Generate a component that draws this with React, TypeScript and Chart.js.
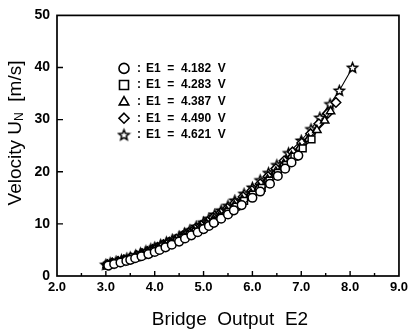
import React, { useEffect, useRef } from 'react';
import { Chart, registerables } from 'chart.js';

Chart.register(...registerables);

// Hot-wire calibration: velocity vs bridge output E2 for five overheat settings E1
const seriesLabels = ['E1 = 4.182 V', 'E1 = 4.283 V', 'E1 = 4.387 V', 'E1 = 4.490 V', 'E1 = 4.621 V'];

const e2Circle = [3.05, 3.17, 3.30, 3.42, 3.50, 3.60, 3.73, 3.87, 4.00, 4.10, 4.22, 4.35, 4.50, 4.62, 4.75, 4.88, 5.00, 5.11, 5.21, 5.36, 5.50, 5.62, 5.78, 6.00, 6.16, 6.36, 6.52, 6.67, 6.80, 6.94];
const uCircle = [2.0, 2.3, 2.6, 2.9, 3.1, 3.4, 3.8, 4.2, 4.6, 5.0, 5.5, 6.0, 6.6, 7.2, 7.8, 8.4, 9.0, 9.6, 10.2, 11.0, 11.8, 12.6, 13.6, 15.0, 16.2, 17.7, 19.2, 20.6, 21.8, 23.1];

const e2Square = [3.02, 3.14, 3.26, 3.38, 3.49, 3.63, 3.75, 3.88, 3.99, 4.09, 4.22, 4.34, 4.46, 4.59, 4.72, 4.84, 4.98, 5.10, 5.23, 5.37, 5.51, 5.67, 5.83, 6.01, 6.19, 6.35, 6.52, 6.69, 6.86, 7.03, 7.21];
const uSquare = [2.0, 2.3, 2.6, 2.9, 3.2, 3.6, 4.0, 4.4, 4.8, 5.2, 5.7, 6.2, 6.7, 7.3, 7.9, 8.5, 9.2, 9.9, 10.6, 11.4, 12.3, 13.3, 14.4, 15.6, 16.9, 18.3, 19.8, 21.3, 22.9, 24.5, 26.2];

const e2Triangle = [3.03, 3.14, 3.25, 3.37, 3.48, 3.61, 3.74, 3.85, 3.96, 4.06, 4.19, 4.31, 4.42, 4.56, 4.68, 4.80, 4.93, 5.06, 5.20, 5.33, 5.47, 5.63, 5.79, 5.97, 6.13, 6.31, 6.48, 6.64, 6.80, 6.97, 7.15, 7.32, 7.48, 7.60];
const uTriangle = [2.1, 2.4, 2.7, 3.0, 3.3, 3.7, 4.1, 4.5, 4.9, 5.3, 5.8, 6.3, 6.8, 7.4, 8.0, 8.6, 9.3, 10.0, 10.8, 11.6, 12.5, 13.5, 14.6, 15.8, 17.0, 18.5, 20.0, 21.5, 23.0, 24.6, 26.3, 28.0, 29.8, 31.6];

const e2Diamond = [3.03, 3.13, 3.25, 3.37, 3.51, 3.63, 3.74, 3.85, 3.96, 4.06, 4.18, 4.30, 4.44, 4.57, 4.69, 4.82, 4.95, 5.08, 5.20, 5.35, 5.49, 5.64, 5.81, 5.99, 6.16, 6.32, 6.48, 6.65, 6.82, 7.01, 7.19, 7.36, 7.54, 7.71];
const uDiamond = [2.2, 2.5, 2.8, 3.1, 3.5, 3.9, 4.3, 4.7, 5.1, 5.5, 6.0, 6.5, 7.1, 7.7, 8.3, 9.0, 9.7, 10.4, 11.2, 12.1, 13.0, 14.0, 15.2, 16.4, 17.7, 19.1, 20.6, 22.1, 23.8, 25.5, 27.3, 29.2, 31.2, 33.3];

const e2Star = [3.00, 3.09, 3.21, 3.32, 3.43, 3.50, 3.61, 3.71, 3.82, 3.92, 4.00, 4.12, 4.24, 4.36, 4.50, 4.61, 4.72, 4.85, 5.00, 5.11, 5.23, 5.36, 5.50, 5.64, 5.83, 6.00, 6.16, 6.33, 6.50, 6.74, 7.00, 7.20, 7.38, 7.59, 7.78, 8.05];
const uStar = [2.2, 2.5, 2.8, 3.1, 3.4, 3.6, 4.0, 4.4, 4.8, 5.2, 5.5, 6.0, 6.5, 7.0, 7.6, 8.2, 8.8, 9.5, 10.3, 11.0, 11.8, 12.6, 13.5, 14.5, 15.8, 17.0, 18.4, 19.8, 21.3, 23.6, 26.0, 28.2, 30.4, 33.0, 35.6, 40.0];

const xMin = 2;
const xMax = 9;
const yMin = 0;
const yMax = 50;
const xMinorTicks = [2.5, 3.5, 4.5, 5.5, 6.5, 7.5, 8.5];
const xMajorTicks = [3, 4, 5, 6, 7, 8];
const yMajorTicks = [10, 20, 30, 40];

const FONT = '"Liberation Sans", Arial, Helvetica, sans-serif';

function pairs(xs: number[], ys: number[]) {
  return xs.map((x, i) => ({ x, y: ys[i] }));
}

function makeStar(r: number): HTMLCanvasElement {
  const size = Math.ceil(r * 2 + 4);
  const c = document.createElement('canvas');
  c.width = size;
  c.height = size;
  const ctx = c.getContext('2d')!;
  const cx = size / 2;
  const cy = size / 2 + 0.5;
  ctx.beginPath();
  for (let i = 0; i < 10; i++) {
    const ang = -Math.PI / 2 + (i * Math.PI) / 5;
    const rad = i % 2 === 0 ? r : r * 0.45;
    ctx.lineTo(cx + rad * Math.cos(ang), cy + rad * Math.sin(ang));
  }
  ctx.closePath();
  ctx.fillStyle = '#fff';
  ctx.fill();
  ctx.strokeStyle = '#000';
  ctx.lineWidth = 1.5;
  ctx.stroke();
  return c;
}

function drawSymbol(ctx: CanvasRenderingContext2D, style: any, x: number, y: number, r: number) {
  ctx.save();
  ctx.strokeStyle = '#000';
  ctx.fillStyle = '#fff';
  ctx.lineWidth = 1.6;
  if (style instanceof HTMLCanvasElement) {
    ctx.drawImage(style, x - style.width / 2, y - style.height / 2);
    ctx.restore();
    return;
  }
  ctx.beginPath();
  if (style === 'circle') {
    ctx.arc(x, y, r, 0, Math.PI * 2);
  } else if (style === 'rect') {
    const s = r * 0.9;
    ctx.rect(x - s, y - s, 2 * s, 2 * s);
  } else if (style === 'triangle') {
    ctx.moveTo(x, y - r);
    ctx.lineTo(x + r * 0.95, y + r * 0.65);
    ctx.lineTo(x - r * 0.95, y + r * 0.65);
    ctx.closePath();
  } else if (style === 'rectRot') {
    ctx.moveTo(x, y - r);
    ctx.lineTo(x + r, y);
    ctx.lineTo(x, y + r);
    ctx.lineTo(x - r, y);
    ctx.closePath();
  }
  ctx.fill();
  ctx.stroke();
  ctx.restore();
}

export default function App() {
  const canvasRef = useRef<HTMLCanvasElement | null>(null);

  useEffect(() => {
    const canvas = canvasRef.current;
    if (!canvas) return;

    const star = makeStar(5.2);
    const legendStar = makeStar(5.5);
    const styles: any[] = ['circle', 'rect', 'triangle', 'rectRot', star];
    const legendStyles: any[] = ['circle', 'rect', 'triangle', 'rectRot', legendStar];
    const radii = [4.3, 4.8, 4.8, 4.8, 5];

    const seriesData = [
      pairs(e2Circle, uCircle),
      pairs(e2Square, uSquare),
      pairs(e2Triangle, uTriangle),
      pairs(e2Diamond, uDiamond),
      pairs(e2Star, uStar),
    ];

    const framePlugin = {
      id: 'frameAndText',
      afterDraw(chart: any) {
        const { ctx, chartArea } = chart;
        const xs = chart.scales.x;
        const ys = chart.scales.y;
        const { left, right, top, bottom } = chartArea;
        ctx.save();
        ctx.strokeStyle = '#000';
        ctx.lineWidth = 1.7;
        ctx.strokeRect(left, top, right - left, bottom - top);

        // inward tick marks
        ctx.lineWidth = 1.4;
        ctx.beginPath();
        xMajorTicks.forEach((v) => {
          const px = xs.getPixelForValue(v);
          ctx.moveTo(px, bottom);
          ctx.lineTo(px, bottom - 5);
        });
        xMinorTicks.forEach((v) => {
          const px = xs.getPixelForValue(v);
          ctx.moveTo(px, bottom);
          ctx.lineTo(px, bottom - 3);
        });
        yMajorTicks.forEach((v) => {
          const py = ys.getPixelForValue(v);
          ctx.moveTo(left, py);
          ctx.lineTo(left + 6, py);
        });
        ctx.stroke();

        // axis titles
        ctx.fillStyle = '#000';
        ctx.font = `19px ${FONT}`;
        ctx.textAlign = 'center';
        ctx.textBaseline = 'alphabetic';
        ctx.fillText('Bridge  Output  E2', (left + right) / 2 + 2, 325);

        ctx.save();
        ctx.translate(21, 133);
        ctx.rotate(-Math.PI / 2);
        const main = 'Velocity U';
        const sub = 'N';
        const rest = '  [m/s]';
        ctx.font = `19px ${FONT}`;
        const w1 = ctx.measureText(main).width;
        const w3 = ctx.measureText(rest).width;
        ctx.font = `12px ${FONT}`;
        const w2 = ctx.measureText(sub).width;
        const total = w1 + w2 + w3;
        let cx = -total / 2;
        ctx.textAlign = 'left';
        ctx.font = `19px ${FONT}`;
        ctx.fillText(main, cx, 0);
        cx += w1;
        ctx.font = `12px ${FONT}`;
        ctx.fillText(sub, cx, 2);
        cx += w2;
        ctx.font = `19px ${FONT}`;
        ctx.fillText(rest, cx, 0);
        ctx.restore();

        // legend
        const lx = left + 67;
        const ly0 = top + 53;
        const dy = 16.6;
        seriesLabels.forEach((label, i) => {
          const y = ly0 + i * dy;
          drawSymbol(ctx, legendStyles[i], lx, y, 5);
          ctx.fillStyle = '#000';
          ctx.font = `bold 12px ${FONT}`;
          ctx.textAlign = 'left';
          ctx.textBaseline = 'middle';
          ctx.fillText(':', lx + 13, y);
          ctx.fillText(label.replace(/ /g, '  '), lx + 22, y);
        });
        ctx.restore();
      },
    };

    const chart = new Chart(canvas, {
      type: 'scatter',
      data: {
        datasets: seriesData.map((d, i) => ({
          label: seriesLabels[i],
          data: d,
          showLine: true,
          borderColor: '#000',
          borderWidth: 1.1,
          pointStyle: styles[i],
          pointRadius: radii[i],
          pointBackgroundColor: '#fff',
          pointBorderColor: '#000',
          pointBorderWidth: 1.5,
          tension: 0,
        })),
      },
      options: {
        responsive: false,
        animation: false,
        devicePixelRatio: 1,
        layout: { padding: { top: 14, right: 9, left: 0, bottom: 0 } },
        plugins: {
          legend: { display: false },
          tooltip: { enabled: false },
          title: { display: false },
        },
        scales: {
          x: {
            type: 'linear',
            min: xMin,
            max: xMax,
            grid: { display: false, drawTicks: false },
            border: { display: false },
            ticks: {
              stepSize: 1,
              color: '#000',
              font: { family: FONT, size: 13, weight: 'bold' },
              padding: 4,
              callback: (v: any) => Number(v).toFixed(1),
            },
            afterFit: (s: any) => {
              s.height = 57;
            },
          },
          y: {
            type: 'linear',
            min: yMin,
            max: yMax,
            grid: { display: false, drawTicks: false },
            border: { display: false },
            ticks: {
              stepSize: 10,
              color: '#000',
              font: { family: FONT, size: 14, weight: 'bold' },
              padding: 7,
            },
            afterFit: (s: any) => {
              s.width = 57;
            },
          },
        },
      } as any,
      plugins: [framePlugin],
    });

    return () => {
      chart.destroy();
    };
  }, []);

  return (
    <div style={{ position: 'absolute', left: 0, top: 0, width: 412, height: 333, background: '#fff' }}>
      <canvas ref={canvasRef} width={412} height={333} style={{ width: 412, height: 333, display: 'block' }} />
    </div>
  );
}
